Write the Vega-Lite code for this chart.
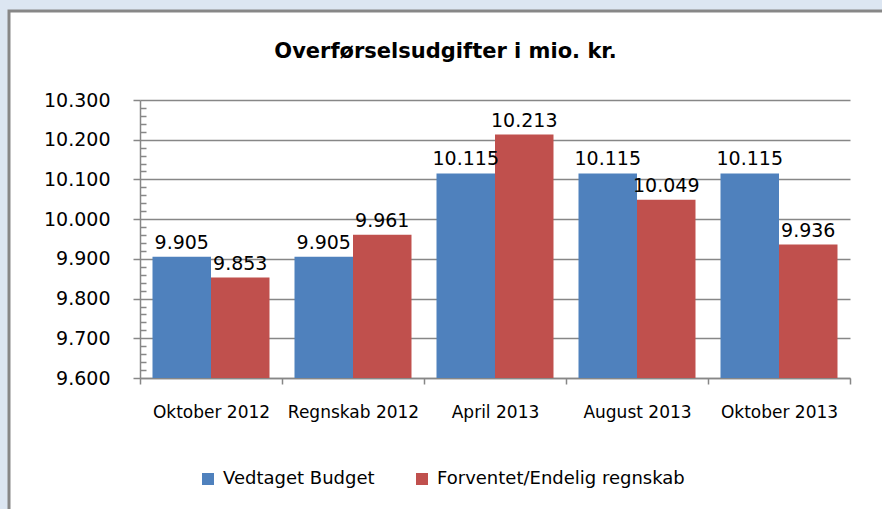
{
  "$schema": "https://vega.github.io/schema/vega-lite/v6.json",
  "autosize": "none",
  "width": 873,
  "height": 498,
  "padding": {"left": 9, "top": 11, "right": 0, "bottom": 0},
  "background": "#dce6f2",
  "config": {
    "locale": {"number": {"decimal": ",", "thousands": ".", "grouping": [3], "currency": ["", " kr."]}},
    "view": {"fill": "white", "stroke": "#878787", "strokeWidth": 3, "strokeDash": [873, 1371, 498, 1]},
    "font": "DejaVu Sans"
  },
  "title": {
    "text": "Overførselsudgifter i mio. kr.",
    "font": "DejaVu Sans",
    "fontSize": 21,
    "fontWeight": "bold",
    "anchor": "middle",
    "frame": "group",
    "offset": -51,
    "color": "black"
  },
  "data": {
    "values": [
      {"periode": "Oktober 2012", "serie": "Vedtaget Budget", "value": 9905},
      {"periode": "Oktober 2012", "serie": "Forventet/Endelig regnskab", "value": 9853},
      {"periode": "Regnskab 2012", "serie": "Vedtaget Budget", "value": 9905},
      {"periode": "Regnskab 2012", "serie": "Forventet/Endelig regnskab", "value": 9961},
      {"periode": "April 2013", "serie": "Vedtaget Budget", "value": 10115},
      {"periode": "April 2013", "serie": "Forventet/Endelig regnskab", "value": 10213},
      {"periode": "August 2013", "serie": "Vedtaget Budget", "value": 10115},
      {"periode": "August 2013", "serie": "Forventet/Endelig regnskab", "value": 10049},
      {"periode": "Oktober 2013", "serie": "Vedtaget Budget", "value": 10115},
      {"periode": "Oktober 2013", "serie": "Forventet/Endelig regnskab", "value": 9936}
    ]
  },
  "encoding": {
    "x": {
      "field": "periode",
      "type": "nominal",
      "sort": null,
      "scale": {"range": [131, 841], "paddingInner": 0, "paddingOuter": 0},
      "axis": {
        "orient": "bottom",
        "offset": -131,
        "title": null,
        "grid": false,
        "tickBand": "extent",
        "tickSize": 6,
        "tickColor": "#878787",
        "tickWidth": 1.5,
        "domainColor": "#878787",
        "domainWidth": 1.5,
        "labelFontSize": 17,
        "labelColor": "black",
        "labelPadding": 20,
        "labelAngle": 0
      }
    },
    "xOffset": {
      "field": "serie",
      "type": "nominal",
      "sort": ["Vedtaget Budget", "Forventet/Endelig regnskab"],
      "scale": {"paddingInner": 0, "paddingOuter": 0.2137}
    },
    "y": {
      "field": "value",
      "type": "quantitative",
      "scale": {"domain": [9600, 10300], "range": [367, 89], "zero": false, "nice": false}
    }
  },
  "layer": [
    {
      "mark": {"type": "bar"},
      "encoding": {
        "y": {
          "field": "value",
          "type": "quantitative",
          "axis": {
            "orient": "left",
            "offset": -131,
            "title": null,
            "values": [9600, 9700, 9800, 9900, 10000, 10100, 10200, 10300],
            "format": ",d",
            "grid": true,
            "gridColor": "#878787",
            "gridWidth": 1.5,
            "domainColor": "#878787",
            "domainWidth": 1.5,
            "tickColor": "#878787",
            "tickWidth": 1.5,
            "tickSize": 7,
            "labelFontSize": 19,
            "labelColor": "black",
            "labelPadding": 23
          }
        },
        "y2": {"datum": 9600},
        "color": {
          "field": "serie",
          "type": "nominal",
          "sort": ["Vedtaget Budget", "Forventet/Endelig regnskab"],
          "scale": {"range": ["#4f81bd", "#c0504d"]},
          "legend": {
            "orient": "none",
            "legendX": 190,
            "legendY": 459,
            "direction": "horizontal",
            "title": null,
            "symbolType": "square",
            "symbolSize": 144,
            "symbolStrokeWidth": 0,
            "labelFontSize": 18,
            "labelLimit": 0,
            "labelColor": "black",
            "labelOffset": 6,
            "columnPadding": 38
          }
        }
      }
    },
    {
      "mark": {"type": "text", "baseline": "alphabetic", "dy": -8, "fontSize": 19, "color": "black"},
      "encoding": {
        "y": {
          "field": "value",
          "type": "quantitative",
          "axis": {
            "orient": "left",
            "offset": -131,
            "title": null,
            "values": [9620, 9640, 9660, 9680, 9720, 9740, 9760, 9780, 9820, 9840, 9860, 9880, 9920, 9940, 9960, 9980, 10020, 10040, 10060, 10080, 10120, 10140, 10160, 10180, 10220, 10240, 10260, 10280],
            "grid": false,
            "domain": false,
            "labels": false,
            "tickColor": "#878787",
            "tickWidth": 1.5,
            "tickSize": -6
          }
        },
        "text": {"field": "value", "type": "quantitative", "format": ",d"}
      }
    }
  ],
  "resolve": {"axis": {"y": "independent"}}
}
